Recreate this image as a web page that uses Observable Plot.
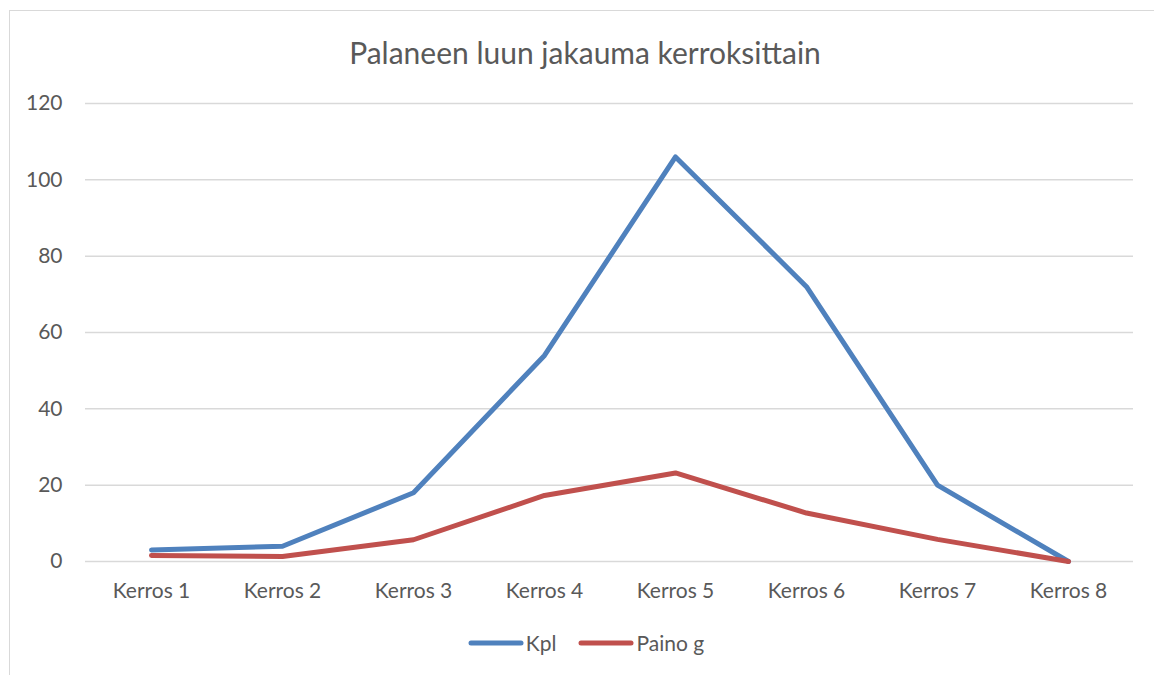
<!DOCTYPE html>
<html>
<head>
<meta charset="utf-8">
<script src="https://cdn.jsdelivr.net/npm/d3@7"></script>
<script src="https://cdn.jsdelivr.net/npm/@observablehq/plot@0.6"></script>
<style>
  html, body { margin: 0; padding: 0; background: #fff; overflow: hidden; }
  #wrap { position: relative; width: 1154px; height: 675px; font-family: Lato, "Open Sans", sans-serif; color: #595959; }
  #frame { position: absolute; left: 9px; top: 10px; width: 1160px; height: 680px; border: 1px solid #d9d9d9; box-sizing: border-box; pointer-events: none; }
  #title { height: 80px; box-sizing: border-box; padding-top: 36px; padding-left: 16px; line-height: 32px; text-align: center; font-size: 30px; }
  #legend { height: 65px; box-sizing: border-box; padding-left: 18px; display: flex; justify-content: center; align-items: center; font-size: 21px; }
  .item { display: flex; align-items: center; margin: 0 11px; }
  .item svg { margin-right: 2px; }
  svg { display: block; }
</style>
</head>
<body>
<div id="wrap">
  <div id="frame"></div>
  <div id="title"></div>
  <div id="chart"></div>
  <div id="legend"></div>
</div>
<script>
const title = "Palaneen luun jakauma kerroksittain";
const categories = ["Kerros 1", "Kerros 2", "Kerros 3", "Kerros 4", "Kerros 5", "Kerros 6", "Kerros 7", "Kerros 8"];
const kpl = [3, 4, 18, 54, 106, 72, 20, 0];
const painoG = [1.6, 1.3, 5.7, 17.3, 23.2, 12.7, 5.8, 0];
const yTicks = [0, 20, 40, 60, 80, 100, 120];
const seriesNames = ["Kpl", "Paino g"];
const seriesColors = ["#4F81BD", "#C0504D"];

const seriesValues = [kpl, painoG];
const rows = [];
seriesNames.forEach((s, si) => {
  categories.forEach((c, i) => rows.push({series: s, category: c, value: seriesValues[si][i]}));
});

document.getElementById("title").textContent = title;

const chart = Plot.plot({
  width: 1154,
  height: 530,
  marginLeft: 85,
  marginRight: 21,
  marginTop: 23,
  marginBottom: 49,
  style: {fontFamily: "Lato, 'Open Sans', sans-serif", fontSize: "21px", color: "#595959", background: "transparent"},
  x: {type: "point", domain: categories, padding: 0.5, label: null},
  y: {domain: [0, 120], label: null},
  color: {domain: seriesNames, range: seriesColors},
  marks: [
    Plot.gridY(yTicks, {stroke: "#d9d9d9", strokeOpacity: 1, strokeWidth: 1.5}),
    Plot.axisY(yTicks, {tickSize: 0, tickPadding: 23, fill: "#595959", fontSize: 21, label: null}),
    Plot.axisX({tickSize: 0, tickPadding: 22, fill: "#595959", fontSize: 21, label: null}),
    Plot.line(rows, {x: "category", y: "value", z: "series", stroke: "series", strokeWidth: 5, strokeLinejoin: "round", strokeLinecap: "round"})
  ]
});
document.getElementById("chart").appendChild(chart);

const legend = document.getElementById("legend");
seriesNames.forEach((s, i) => {
  const item = document.createElement("div");
  item.className = "item";
  item.innerHTML = `<svg width="56" height="10"><line x1="3" y1="5" x2="53" y2="5" stroke="${seriesColors[i]}" stroke-width="5" stroke-linecap="round"/></svg><span>${s}</span>`;
  legend.appendChild(item);
});
</script>
</body>
</html>
